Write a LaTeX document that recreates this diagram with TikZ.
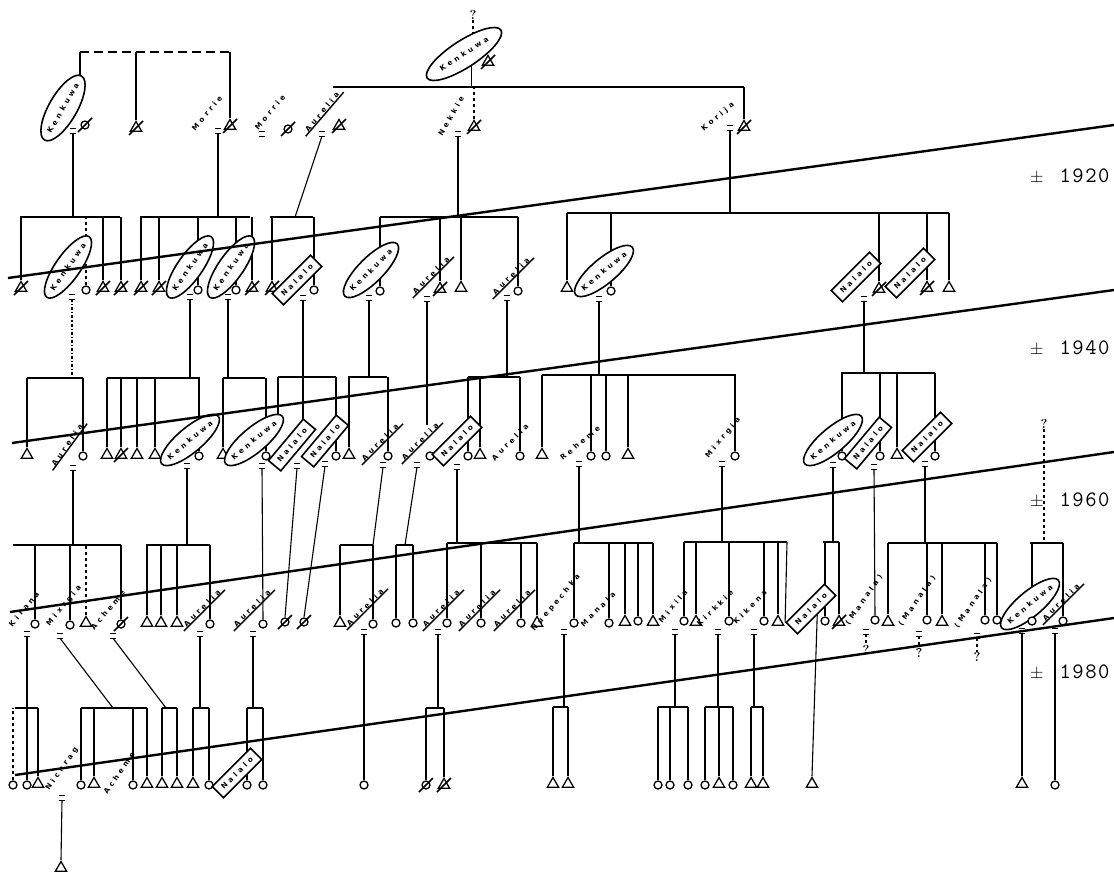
\documentclass[tikz,border=0pt]{standalone}
\usepackage{fontspec}
\usetikzlibrary{shapes.geometric}
\newfontfamily\hand{DejaVu Sans}[LetterSpace=45]
\pgfdeclarelayer{bg}
\pgfdeclarelayer{fg}
\pgfsetlayers{bg,main,fg}
\tikzset{
  male/.style={draw, fill=white, regular polygon, regular polygon sides=3, inner sep=0pt, minimum size=13pt, line width=1.3pt},
  female/.style={draw, fill=white, circle, inner sep=0pt, minimum size=8pt, line width=1.3pt},
  lab/.style={font=\hand\bfseries\fontsize{7.2}{8}\selectfont, inner sep=0.5pt, rotate=#1},
  lab/.default=45,
  ell/.style={lab=#1, draw, fill=white, ellipse, line width=1.6pt, inner sep=-2pt, minimum height=25pt},
  ell/.default=45,
  nbox/.style={lab=#1, draw, fill=white, rectangle, line width=1.6pt, inner sep=1pt, minimum height=16pt, minimum width=54pt},
  nbox/.default=45,
  eqn/.style={inner sep=0pt, minimum width=6pt, minimum height=4pt},
  bar/.style={line width=2pt},
  ln/.style={line width=1.1pt},
  era/.style={line width=2.4pt},
  yrs/.style={font=\fontsize{22}{22}\selectfont, anchor=west, inner sep=0pt},
  slash/.style={line width=1.6pt},
  qm/.style={font=\bfseries\fontsize{13}{13}\selectfont, inner sep=0pt},
}
\newcommand\Ma[2]{\node[male] (#1) at (#2) {};}
\newcommand\Fe[2]{\node[female] (#1) at (#2) {};}
\newcommand\DMa[2]{\node[male] (#1) at (#2) {};\draw[slash] ([shift={(-7,7)}]#1.center) -- ([shift={(7,-7)}]#1.center);}
\newcommand\DFe[2]{\node[female] (#1) at (#2) {};\draw[slash] ([shift={(-7,7)}]#1.center) -- ([shift={(7,-7)}]#1.center);}
\newcommand\GBar[4]{\coordinate (#1) at (#2,#4); \coordinate (#1R) at (#3,#4); \draw[bar] (#1) -- (#1R);}
\newcommand\drp[2]{\draw[ln] (#1.north) -- (#1.north |- #2);}
\newcommand\undl[1]{\draw[line width=1.4pt] ([shift={(-3,3)}]#1.south west) -- ([shift={(3,-3)}]#1.south east);}
\newcommand\Eq[2]{\node[eqn] (#1) at (#2) {};\draw[line width=1.2pt] (#1.north west) -- (#1.north east) (#1.south west) -- (#1.south east);}
\newcommand\yrtext[1]{{\fontsize{16}{16}\selectfont$\pm$}\hspace{16pt}\ttfamily #1}
\begin{document}
\begin{tikzpicture}[x=1pt,y=-1pt]
\useasboundingbox (0,0) rectangle (1114,875);

% ---------------- top generation
\node[qm] (q0) at (473,15) {?};
\coordinate (t0) at (473,52);
\coordinate (tL) at (80,52);
\coordinate (tR) at (230,52);
\node[ell=60, minimum width=74pt, minimum height=28pt] (K0) at (63,108) {Kenkuwa};
\Eq{e0a}{73,131}
\DFe{g0a}{85,125}
\DMa{g0b}{136,128}
\node[lab=50] (M1) at (207,113) {Morrie};
\Eq{e0c}{218,131}
\DMa{g0c}{230,126}
\node[lab=50] (M2) at (270,112) {Morrie};
\Eq{e0d}{262,134}
\DFe{g0d}{288,129}
\node[lab=50] (A0) at (322,112) {Aurelia}; \undl{A0}
\Eq{e0e}{322,134}
\DMa{g0e}{339,126}
\node[ell=33, minimum width=88pt, minimum height=27pt] (KT) at (464,54) {Kenkuwa};
\DMa{g0t}{488,62}
\GBar{g0}{333}{744}{87}
\node[lab=60] (N0) at (451,116) {Nekkie};
\Eq{e0n}{458,134}
\DMa{g0n}{474,127}
\node[lab=40] (Ko) at (718,117) {Korija};
\Eq{e0k}{730,128}
\DMa{g0k}{744,127}

% ---------------- generation 1
\GBar{g1a}{20}{120}{217}
\GBar{g1b}{140}{250}{217}
\GBar{g1c}{270}{313}{217}
\coordinate (g1cP) at (295,217);
\GBar{g1d}{380}{518}{217}
\GBar{g1e}{567}{949}{213}
\DMa{p1a}{21,288}
\node[ell=55, minimum width=72pt] (E1a) at (68,267) {Kenkuwa};
\Fe{p1b}{86,290}
\DMa{p1c}{103,288}
\DMa{p1d}{121,288}
\DMa{p1e}{141,288}
\DMa{p1f}{159,288}
\node[ell=55, minimum width=72pt] (E1b) at (190,267) {Kenkuwa};
\Fe{p1g}{198,290}
\node[ell=55, minimum width=72pt] (E1c) at (231,267) {Kenkuwa};
\Fe{p1h}{236,290}
\DMa{p1i}{252,288}
\DMa{p1j}{272,288}
\node[nbox=45] (B1a) at (297,280) {Nalalo};
\Fe{p1k}{314,290}
\node[ell=45] (E1d) at (371,270) {Kenkuwa};
\Fe{p1l}{380,291}
\node[lab=45] (L1a) at (431,275) {Aurelia}; \undl{L1a}
\DMa{p1m}{440,289}
\Ma{p1n}{461,288}
\node[lab=45] (L1b) at (511,276) {Aurelia}; \undl{L1b}
\Fe{p1o}{518,291}
\Ma{p1p}{567,288}
\node[ell=40] (E1e) at (604,271) {Kenkuwa};
\Fe{p1q}{611,291}
\node[nbox=45] (B1b) at (856,277) {Nalalo};
\DMa{p1r}{879,289}
\node[nbox=45] (B1c) at (910,273) {Nalalo};
\DMa{p1s}{927,288}
\Ma{p1t}{949,288}
\Eq{e1a}{72,297}
\Eq{e1b}{190,297}
\Eq{e1c}{228,297}
\Eq{e1d}{303,298}
\Eq{e1e}{369,298}
\Eq{e1f}{427,299}
\Eq{e1g}{507,298}
\Eq{e1h}{599,299}
\Eq{e1i}{864,299}

% ---------------- generation 2
\GBar{g2a}{27}{83}{378}
\GBar{g2b}{107}{200}{378}
\GBar{g2c}{223}{265}{378}
\GBar{g2d}{278}{336}{377}
\GBar{g2e}{348}{387}{377}
\GBar{g2f}{468}{520}{377}
\GBar{g2g}{542}{736}{375}
\GBar{g2h}{841}{935}{373}
\Ma{p2a}{27,455}
\node[lab=55] (L2a) at (67,445) {Aurelia}; \undl{L2a}
\Fe{p2b}{83,456}
\Ma{p2c}{107,455}
\DMa{p2d}{121,455}
\Ma{p2e}{137,455}
\Ma{p2f}{155,455}
\node[ell=40] (E2a) at (190,440) {Kenkuwa};
\Fe{p2g}{199,456}
\Ma{p2h}{223,455}
\node[ell=40] (E2b) at (254,440) {Kenkuwa};
\Fe{p2i}{266,456}
\node[nbox=50] (B2a) at (292,445) {Nalalo};
\node[nbox=50] (B2b) at (325,441) {Nalalo};
\Fe{p2j}{336,456}
\Ma{p2k}{349,455}
\node[lab=45] (L2b) at (380,442) {Aurelia}; \undl{L2b}
\Fe{p2l}{388,456}
\node[lab=45] (L2c) at (420,441) {Aurelia}; \undl{L2c}
\Fe{p2m}{430,456}
\node[nbox=45] (B2c) at (457,441) {Nalalo};
\Fe{p2n}{468,456}
\Ma{p2o}{480,455}
\node[lab=45] (L2d) at (510,442) {Aurelia};
\Fe{p2p}{520,456}
\Ma{p2q}{542,455}
\node[lab=40] (L2e) at (580,443) {Reheme};
\Fe{p2r}{591,456}
\Fe{p2s}{606,456}
\Ma{p2t}{628,455}
\node[lab=50] (L2f) at (723,438) {Mixrgia};
\Fe{p2u}{735,456}
\node[ell=40] (E2c) at (833,440) {Kenkuwa};
\Fe{p2v}{842,456}
\node[nbox=50] (B2d) at (868,443) {Nalalo};
\Fe{p2w}{880,456}
\Ma{p2x}{897,455}
\node[nbox=45] (B2e) at (927,437) {Nalalo};
\Fe{p2y}{935,456}
\node[qm] (q1) at (1044,424) {?};
\Eq{e2a}{73,468}
\Eq{e2b}{187,466}
\Eq{e2c}{262,466}
\Eq{e2d}{297,466}
\Eq{e2e}{325,464}
\Eq{e2f}{383,465}
\Eq{e2g}{417,465}
\Eq{e2h}{457,467}
\Eq{e2i}{579,464}
\Eq{e2j}{722,464}
\Eq{e2k}{833,465}
\Eq{e2l}{874,467}
\Eq{e2m}{925,464}

% ---------------- generation 3
\GBar{g3a}{13}{121}{545}
\GBar{g3b}{146}{210}{545}
\GBar{g3c}{340}{373}{545}
\GBar{g3d}{396}{413}{545}
\GBar{g3e}{447}{537}{543}
\GBar{g3f}{574}{653}{543}
\GBar{g3g}{684}{787}{542}
\GBar{g3h}{823}{839}{542}
\GBar{g3i}{888}{997}{543}
\GBar{g3j}{1030}{1063}{543}
\node[lab=50] (L3a) at (24,609) {Kirana};
\Fe{p3a}{35,624}
\node[lab=50] (L3b) at (64,606) {Mixrgia};
\Fe{p3b}{70,625}
\Ma{p3c}{86,623}
\node[lab=50] (L3c) at (108,610) {Acheme};
\DFe{p3d}{121,624}
\Ma{p3e}{147,623}
\Ma{p3f}{161,623}
\Ma{p3g}{177,623}
\node[lab=45] (L3d) at (202,608) {Aurelia}; \undl{L3d}
\Fe{p3h}{210,624}
\node[lab=45] (L3e) at (252,608) {Aurelia}; \undl{L3e}
\Fe{p3i}{263,624}
\DFe{p3j}{285,622}
\DFe{p3k}{304,622}
\Ma{p3l}{340,623}
\node[lab=45] (L3f) at (365,607) {Aurelia}; \undl{L3f}
\Fe{p3m}{373,624}
\Fe{p3n}{396,623}
\Fe{p3o}{413,623}
\node[lab=45] (L3g) at (441,608) {Aurelia}; \undl{L3g}
\Fe{p3p}{447,623}
\node[lab=45] (L3h) at (477,608) {Aurelia}; \undl{L3h}
\Fe{p3q}{481,623}
\node[lab=45] (L3i) at (512,608) {Aurelia}; \undl{L3i}
\Fe{p3r}{521,623}
\Ma{p3s}{537,623}
\node[lab=50] (L3j) at (556,603) {Nuepechka};
\Fe{p3t}{574,623}
\node[lab=45] (L3k) at (598,609) {Manala};
\Fe{p3u}{609,623}
\Ma{p3v}{625,622}
\Fe{p3w}{638,621}
\Ma{p3x}{653,622}
\node[lab=50] (L3l) at (673,606) {Mixila};
\Fe{p3y}{684,621}
\Ma{p3z}{696,622}
\node[lab=45] (L3m) at (715,608) {Kirkkie};
\Fe{p3A}{729,621}
\node[lab=45] (L3n) at (750,607) {Kikena};
\Fe{p3B}{764,621}
\Ma{p3C}{778,622}
\node[nbox=45] (B3a) at (811,609) {Nalalo};
\Fe{p3D}{825,621}
\DMa{p3E}{839,622}
\node[lab=55] (L3o) at (864,600) {(Manala)};
\Fe{p3F}{875,620}
\Ma{p3G}{888,622}
\node[lab=55] (L3p) at (917,601) {(Manala)};
\Fe{p3H}{927,620}
\Ma{p3I}{942,622}
\node[lab=55] (L3q) at (973,603) {(Manala)};
\Fe{p3J}{985,620}
\Fe{p3K}{997,620}
\node[ell=40] (E3a) at (1030,604) {Kenkuwa};
\Fe{p3L}{1032,621}
\node[lab=45] (L3r) at (1061,602) {Aurelia}; \undl{L3r}
\Fe{p3M}{1063,621}
\Eq{e3o}{866,632}
\Eq{e3p}{919,634}
\Eq{e3q}{977,636}
\node[qm] (q3o) at (866,650) {?};
\node[qm] (q3p) at (919,653) {?};
\node[qm] (q3q) at (977,657) {?};
\Eq{e3a}{27,634}
\Eq{e3b}{60,636}
\Eq{e3c}{113,636}
\Eq{e3d}{200,634}
\Eq{e3e}{253,634}
\Eq{e3f}{364,632}
\Eq{e3g}{438,632}
\Eq{e3h}{564,632}
\Eq{e3i}{675,632}
\Eq{e3j}{718,632}
\Eq{e3k}{754,632}
\Eq{e3m}{1022,631}
\Eq{e3n}{1055,631}

% ---------------- generation 4
\GBar{g4a}{15}{38}{708}
\GBar{g4b}{81}{147}{708}
\GBar{g4c}{162}{177}{708}
\GBar{g4d}{193}{209}{708}
\GBar{g4e}{247}{263}{708}
\GBar{g4f}{426}{444}{708}
\GBar{g4g}{553}{568}{707}
\GBar{g4h}{658}{688}{707}
\GBar{g4i}{705}{733}{707}
\GBar{g4j}{751}{763}{707}
\coordinate (g4bP) at (113,708);
\coordinate (g4cP) at (166,708);
\Fe{p4a}{13,785}
\Fe{p4b}{27,785}
\Ma{p4c}{38,784}
\node[lab=55] (L4a) at (62,769) {Nicnrag};
\Fe{p4d}{81,785}
\Ma{p4e}{94,784}
\node[lab=55] (L4b) at (119,773) {Acheme};
\Fe{p4f}{133,785}
\Ma{p4g}{147,784}
\Ma{p4h}{162,784}
\Ma{p4i}{177,784}
\Ma{p4j}{193,784}
\Fe{p4k}{209,785}
\node[nbox=45] (B4a) at (237,773) {Nalalo};
\Fe{p4l}{247,785}
\Fe{p4m}{263,785}
\Eq{e4a}{62,798}
\Ma{p4n}{61,868}
\Fe{p4o}{364,785}
\DFe{p4p}{426,785}
\DMa{p4q}{444,785}
\Ma{p4r}{553,784}
\Ma{p4s}{568,784}
\Fe{p4t}{658,785}
\Fe{p4u}{670,785}
\Fe{p4v}{688,785}
\Fe{p4w}{705,785}
\Ma{p4x}{719,784}
\Fe{p4y}{733,785}
\Ma{p4z}{751,784}
\Ma{p4A}{763,784}
\Ma{p4B}{812,784}
\Ma{p4C}{1022,784}
\Fe{p4D}{1055,785}

% ---------------- year labels
\node[yrs] (y1) at (1030,176) {\yrtext{1\kern1.5pt9\kern1.5pt2\kern1.5pt0}};
\node[yrs] (y2) at (1030,348) {\yrtext{1\kern1.5pt9\kern1.5pt4\kern1.5pt0}};
\node[yrs] (y3) at (1030,500) {\yrtext{1\kern1.5pt9\kern1.5pt6\kern1.5pt0}};
\node[yrs] (y4) at (1030,672) {\yrtext{1\kern1.5pt9\kern1.5pt8\kern1.5pt0}};

% ---------------- connectors
\begin{pgfonlayer}{bg}
\draw[ln,dashed] (q0.south) -- (t0);
\draw[bar,dash pattern=on 9pt off 5pt] (tL) -- (tR);
\draw[ln] (tL) -- (tL |- K0.east);
\draw[ln] (g0b.north) -- (g0b.north |- tL);
\draw[ln] (g0c.north) -- (g0c.north |- tR);
\draw[ln] (e0a.south) -- (e0a.south |- g1a);
\draw[ln] (e0c.south) -- (e0c.south |- g1b);
\draw[ln] (e0e.south) -- (g1cP);
\draw[ln] (KT.south) -- (KT.south |- g0);
\draw[ln,dashed] (g0n.north) -- (g0n.north |- g0);
\draw[ln] (g0k.north) -- (g0k.north |- g0R);
\draw[ln] (e0n.south) -- (e0n.south |- g1d);
\draw[ln] (e0k.south) -- (e0k.south |- g1e);
% gen1 drops
\drp{p1a}{g1a}
\draw[ln,dashed] (p1b.north) -- (p1b.north |- g1a);
\drp{p1c}{g1a} \drp{p1d}{g1a}
\drp{p1e}{g1b} \drp{p1f}{g1b} \drp{p1g}{g1b} \drp{p1h}{g1b} \drp{p1i}{g1b}
\drp{p1j}{g1c} \drp{p1k}{g1c}
\drp{p1l}{g1d} \drp{p1m}{g1d} \drp{p1n}{g1d} \drp{p1o}{g1d}
\drp{p1p}{g1e} \drp{p1q}{g1e} \drp{p1r}{g1e} \drp{p1s}{g1e} \drp{p1t}{g1e}
% gen1 -> gen2
\draw[ln,dash dot] (e1a.south) -- (e1a.south |- g2a);
\draw[ln] (e1b.south) -- (e1b.south |- g2b);
\draw[ln] (e1c.south) -- (e1c.south |- g2c);
\draw[ln] (e1d.south) -- (e1d.south |- g2d);
\draw[ln] (e1e.south) -- (e1e.south |- g2e);
\draw[ln] (e1f.south) -- ++(0,124);
\draw[ln] (e1g.south) -- (e1g.south |- g2f);
\draw[ln] (e1h.south) -- (e1h.south |- g2g);
\draw[ln] (e1i.south) -- (e1i.south |- g2h);
% gen2 drops
\drp{p2a}{g2a} \drp{p2b}{g2a}
\drp{p2c}{g2b} \drp{p2d}{g2b} \drp{p2e}{g2b} \drp{p2f}{g2b} \drp{p2g}{g2b}
\drp{p2h}{g2c} \drp{p2i}{g2c}
\draw[ln] (g2d) -- ++(0,45);
\draw[ln] (e1d.south |- g2d) -- ++(0,48);
\drp{p2j}{g2d}
\drp{p2k}{g2e} \drp{p2l}{g2e}
\drp{p2n}{g2f} \drp{p2o}{g2f} \drp{p2p}{g2f}
\drp{p2q}{g2g} \drp{p2r}{g2g} \drp{p2s}{g2g} \drp{p2t}{g2g} \drp{p2u}{g2g}
\drp{p2v}{g2h} \drp{p2w}{g2h} \drp{p2x}{g2h} \drp{p2y}{g2h}
\draw[ln,dashed] (q1.south) -- (q1.south |- g3j);
% gen2 -> gen3
\draw[ln] (e2a.south) -- (e2a.south |- g3a);
\draw[ln] (e2b.south) -- (e2b.south |- g3b);
\draw[ln] (e2c.south) -- (p3i.north);
\draw[ln] (e2d.south) -- (p3j.north);
\draw[ln] (e2e.south) -- (p3k.north);
\draw[ln] (e2f.south) -- (373,545);
\draw[ln] (e2g.south) -- (405,545);
\draw[ln] (e2h.south) -- (e2h.south |- g3e);
\draw[ln] (e2i.south) -- (e2i.south |- g3f);
\draw[ln] (e2j.south) -- (e2j.south |- g3g);
\draw[ln] (e2k.south) -- (e2k.south |- g3h);
\draw[ln] (e2l.south) -- (p3F.north);
\draw[ln] (e2m.south) -- (e2m.south |- g3i);
% gen3 drops
\drp{p3a}{g3a} \drp{p3b}{g3a}
\draw[ln,dashed] (p3c.north) -- (p3c.north |- g3a);
\drp{p3d}{g3a}
\drp{p3e}{g3b} \drp{p3f}{g3b} \drp{p3g}{g3b} \drp{p3h}{g3b}
\drp{p3l}{g3c} \drp{p3m}{g3c}
\drp{p3n}{g3d} \drp{p3o}{g3d}
\drp{p3p}{g3e} \drp{p3q}{g3e} \drp{p3r}{g3e} \drp{p3s}{g3e}
\drp{p3t}{g3f} \drp{p3u}{g3f} \drp{p3v}{g3f} \drp{p3w}{g3f} \drp{p3x}{g3f}
\drp{p3y}{g3g} \drp{p3z}{g3g} \drp{p3A}{g3g} \drp{p3B}{g3g} \drp{p3C}{g3g}
\draw[ln] (g3gR) -- (B3a.north west);
\drp{p3D}{g3h} \drp{p3E}{g3h}
\drp{p3G}{g3i} \drp{p3H}{g3i} \drp{p3I}{g3i} \drp{p3J}{g3i} \drp{p3K}{g3i}
\drp{p3L}{g3j} \drp{p3M}{g3j}
\draw[ln,dashed] (e3o.south) -- (q3o.north);
\draw[ln,dashed] (e3p.south) -- (q3p.north);
\draw[ln,dashed] (e3q.south) -- (q3q.north);
% gen3 -> gen4
\draw[ln] (e3a.south) -- (e3a.south |- g4a);
\draw[ln] (e3b.south) -- (g4bP);
\draw[ln] (e3c.south) -- (g4cP);
\draw[ln] (e3d.south) -- (e3d.south |- g4d);
\draw[ln] (e3e.south) -- (e3e.south |- g4e);
\draw[ln] (e3f.south) -- (p4o.north);
\draw[ln] (e3g.south) -- (e3g.south |- g4f);
\draw[ln] (e3h.south) -- (e3h.south |- g4g);
\draw[ln] (e3i.south) -- (e3i.south |- g4h);
\draw[ln] (e3j.south) -- (e3j.south |- g4i);
\draw[ln] (e3k.south) -- (e3k.south |- g4j);
\draw[ln] (B3a.south) -- (p4B.north);
\draw[ln] (e3m.south) -- (p4C.north);
\draw[ln] (e3n.south) -- (p4D.north);
% gen4 drops
\draw[ln,dashed] (p4a.north) -- (p4a.north |- g4a);
\drp{p4b}{g4a} \drp{p4c}{g4a}
\drp{p4d}{g4b} \drp{p4e}{g4b} \drp{p4f}{g4b} \drp{p4g}{g4b}
\drp{p4h}{g4c} \drp{p4i}{g4c}
\drp{p4j}{g4d} \drp{p4k}{g4d}
\drp{p4l}{g4e} \drp{p4m}{g4e}
\draw[ln] (e4a.south) -- (p4n.north);
\drp{p4p}{g4f} \drp{p4q}{g4f}
\drp{p4r}{g4g} \drp{p4s}{g4g}
\drp{p4t}{g4h} \drp{p4u}{g4h} \drp{p4v}{g4h}
\drp{p4w}{g4i} \drp{p4x}{g4i} \drp{p4y}{g4i}
\drp{p4z}{g4j} \drp{p4A}{g4j}
\end{pgfonlayer}

% ---------------- era lines
\begin{pgfonlayer}{fg}
\coordinate (a1) at (8,278);  \coordinate (b1) at (1114,125);
\coordinate (a2) at (12,443); \coordinate (b2) at (1114,290);
\coordinate (a3) at (10,612); \coordinate (b3) at (1114,452);
\coordinate (a4) at (15,775); \coordinate (b4) at (1114,618);
\draw[era] (a1) -- (b1);
\draw[era] (a2) -- (b2);
\draw[era] (a3) -- (b3);
\draw[era] (a4) -- (b4);
\end{pgfonlayer}
\end{tikzpicture}
\end{document}
